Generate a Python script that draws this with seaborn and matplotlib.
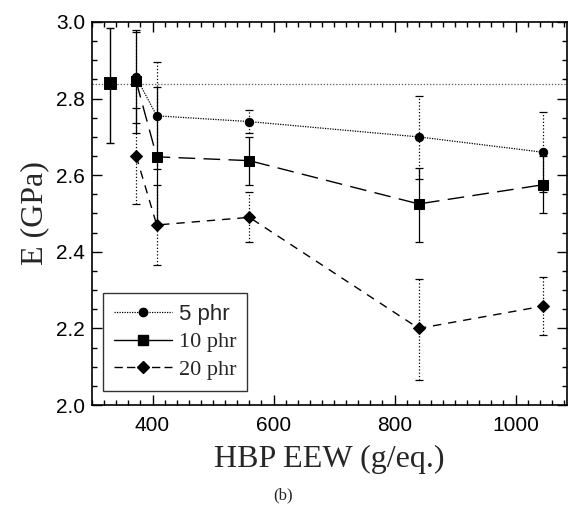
import numpy as np
import pandas as pd
import seaborn as sns
import matplotlib
matplotlib.use("Agg")
import matplotlib.pyplot as plt
from matplotlib.ticker import MultipleLocator
from matplotlib.lines import Line2D

# ---- data ----
eew = [373, 407, 560, 840, 1045]
e_5 = [2.856, 2.755, 2.740, 2.700, 2.660]
e_10 = [2.845, 2.648, 2.638, 2.525, 2.575]
e_20 = [2.650, 2.470, 2.490, 2.200, 2.258]
up_5 = [2.975, 2.895, 2.770, 2.808, 2.765]
lo_5 = [2.735, 2.615, 2.710, 2.590, 2.555]
up_10 = [2.980, 2.830, 2.700, 2.620, 2.650]
lo_10 = [2.710, 2.470, 2.575, 2.425, 2.500]
up_20 = [2.775, 2.575, 2.555, 2.330, 2.333]
lo_20 = [2.525, 2.365, 2.425, 2.065, 2.183]
neat_x = [330]
neat_e = [2.840]
neat_up = [2.985]
neat_lo = [2.685]
neat_level = 2.838
series_names = ["5 phr", "10 phr", "20 phr"]

sns.set_style("ticks")
plt.rcParams["font.family"] = ["Liberation Sans", "DejaVu Sans"]
SERIF = ["Liberation Serif", "DejaVu Serif"]

fig = plt.figure(figsize=(5.68, 5.11), dpi=100)
ax = fig.add_axes([92/568, 1-405/511, (567-92)/568, (405-22)/511])

df = pd.DataFrame({
    "x": eew * 3,
    "y": e_5 + e_10 + e_20,
    "s": [series_names[0]] * 5 + [series_names[1]] * 5 + [series_names[2]] * 5,
})

styles = {
    "5 phr": dict(ls=(0, (1, 1)), marker="o", ms=6, lw=0.9, ebls=":", up=up_5, lo=lo_5, y=e_5),
    "10 phr": dict(ls=(0, (12, 6)), marker="s", ms=7, lw=1.0, ebls="-", up=up_10, lo=lo_10, y=e_10),
    "20 phr": dict(ls=(0, (6, 5)), marker="D", ms=6, lw=1.0, ebls=":", up=up_20, lo=lo_20, y=e_20),
}

# reference dotted line
ax.axhline(neat_level, color="#555555", lw=0.9, ls=(0, (1, 1.5)), zorder=1)

for name in series_names:
    st = styles[name]
    sub = df[df["s"] == name]
    sns.lineplot(data=sub, x="x", y="y", ax=ax, color="black", lw=st["lw"],
                 linestyle=st["ls"], marker=st["marker"], markersize=st["ms"],
                 markeredgecolor="black", markerfacecolor="black", label=name,
                 legend=False, zorder=3)
    y = np.array(st["y"])
    yerr = np.vstack([y - np.array(st["lo"]), np.array(st["up"]) - y])
    eb = ax.errorbar(eew, y, yerr=yerr, fmt="none", ecolor="black", elinewidth=0.9,
                     capsize=3, capthick=0.9, zorder=2)
    for lc in eb[2]:
        lc.set_linestyle(st["ebls"])

# neat resin point
ny = np.array(neat_e)
ax.errorbar(neat_x, ny, yerr=np.vstack([ny - np.array(neat_lo), np.array(neat_up) - ny]),
            fmt="none", ecolor="black", elinewidth=1.0, capsize=3, capthick=1.0, zorder=2)
sns.scatterplot(x=neat_x, y=neat_e, ax=ax, marker="s", s=70, color="black",
                edgecolor="black", zorder=4, legend=False)

ax.set_xlim(300, 1085)
ax.set_ylim(2.0, 3.0)
ax.xaxis.set_major_locator(MultipleLocator(200))
ax.xaxis.set_minor_locator(MultipleLocator(20))
ax.yaxis.set_major_locator(MultipleLocator(0.2))
ax.yaxis.set_minor_locator(MultipleLocator(0.05))
ax.yaxis.set_major_formatter(matplotlib.ticker.FormatStrFormatter("%.1f"))
ax.tick_params(which="both", direction="in", top=True, right=True, width=1.0, colors="black")
ax.tick_params(which="major", length=7, labelsize=15)
ax.tick_params(which="minor", length=3.5)
ax.tick_params(axis="x", which="major", pad=8)
ax.tick_params(axis="y", which="major", pad=5)
for sp in ax.spines.values():
    sp.set_linewidth(1.2)
    sp.set_color("black")

ax.set_xlabel("HBP EEW (g/eq.)", fontsize=23, family=SERIF, labelpad=7)
ax.set_ylabel("E (GPa)", fontsize=23, family=SERIF, labelpad=5)

# legend
handles = [
    Line2D([], [], color="black", ls=(0, (1, 1)), lw=0.9, marker="o", ms=6),
    Line2D([], [], color="black", ls="-", lw=1.0, marker="s", ms=7),
    Line2D([], [], color="black", ls=(0, (6, 3)), lw=1.0, marker="D", ms=6),
]
leg = ax.legend(handles, series_names, loc="lower left", bbox_to_anchor=(0.0, 0.008),
                frameon=True, fancybox=False, edgecolor="black", fontsize=16,
                handlelength=2.6, handletextpad=0.3, labelspacing=0.3, borderpad=0.5)
leg.get_frame().set_linewidth(1.0)
texts = leg.get_texts()
texts[0].set_family(["Liberation Sans", "DejaVu Sans"])
texts[1].set_family(SERIF)
texts[2].set_family(SERIF)

fig.text(283/568, 1-495/511, "(b)", ha="center", va="center", fontsize=12, family=SERIF)

fig.savefig("out.png", dpi=100)
